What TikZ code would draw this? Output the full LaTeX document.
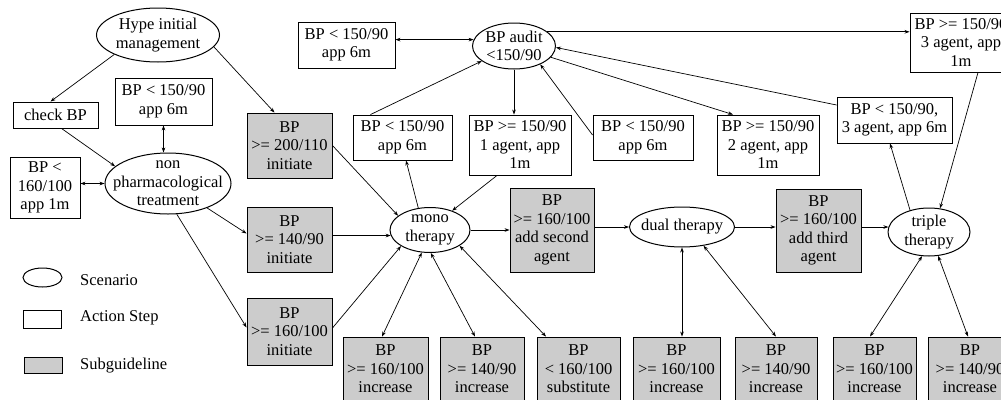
\documentclass[tikz,border=0pt]{standalone}
\usepackage{fontspec}
\setmainfont{Liberation Serif}
\usetikzlibrary{arrows.meta,shapes.geometric}

\tikzset{
  lbl/.style={font=\fontsize{16.5}{18.5}\selectfont, align=center, inner sep=0pt},
  sz/.style 2 args={minimum width=#1pt, minimum height=#2pt},
  scen/.style={ellipse, draw, line width=1pt, inner sep=0pt},
  actbox/.style={rectangle, draw, line width=0.9pt, lbl},
  subbox/.style={actbox, fill=black!20},
  conn/.style={line width=0.7pt, -{Stealth[length=5pt,width=3.6pt]}},
  bidir/.style={line width=0.7pt, {Stealth[length=5pt,width=3.6pt]}-{Stealth[length=5pt,width=3.6pt]}},
}

\begin{document}
\begin{tikzpicture}[x=1pt,y=-1pt]
\useasboundingbox (0,0) rectangle (1001,399);
\clip (0,0) rectangle (1001,399);

% scenarios
\node[scen, sz={123}{54}] (hype) at (158,35) {};
\node[lbl] (hype-t) at (hype) {Hype initial\\management};
\node[scen, sz={126}{61}] (nonph) at (168,183.5) {};
\node[lbl] (nonph-t) at (nonph) {non\\pharmacological\\treatment};
\node[scen, sz={83}{46}] (audit) at (514,46) {};
\node[lbl] (audit-t) at (audit) {BP audit\\<150/90};
\node[scen, sz={80}{45}] (mono) at (430,230) {};
\node[lbl] (mono-t) at (mono) {mono\\therapy};
\node[scen, sz={105}{40}] (dual) at (682,227) {};
\node[lbl] (dual-t) at (dual) {dual therapy};
\node[scen, sz={82}{48}] (triple) at (929,232) {};
\node[lbl] (triple-t) at (triple) {triple\\therapy};

% action steps
\node[actbox, sz={85}{26}] (checkbp) at (55.5,115) {check BP};
\node[actbox, sz={97}{47}] (l6m) at (163.5,101.5) {BP < 150/90\\app 6m};
\node[actbox, sz={70}{61}] (l1m) at (45,187.5) {BP <\\160/100\\app 1m};
\node[actbox, sz={97}{46}] (tl6m) at (346.5,45) {BP < 150/90\\app 6m};
\node[actbox, sz={99}{45}] (r2a) at (402.5,137.5) {BP < 150/90\\app 6m};
\node[actbox, sz={102}{60}] (r2b) at (520,145) {BP >= 150/90\\1 agent, app\\1m};
\node[actbox, sz={100}{45}] (r2c) at (643,137.5) {BP < 150/90\\app 6m};
\node[actbox, sz={102}{60}] (r2d) at (768,145) {BP >= 150/90\\2 agent, app\\1m};
\node[actbox, sz={115}{46}] (r3a6m) at (894.5,120) {BP < 150/90,\\3 agent, app 6m};
\node[actbox, sz={102}{59}] (r3a1m) at (961,42.5) {BP >= 150/90\\3 agent, app\\1m};

% subguidelines
\node[subbox, sz={85}{65}] (s200) at (289.5,145.5) {BP\\>= 200/110\\initiate};
\node[subbox, sz={85}{65}] (s140) at (289.5,239.5) {BP\\>= 140/90\\initiate};
\node[subbox, sz={85}{67}] (s160i) at (289.5,331.5) {BP\\>= 160/100\\initiate};
\node[subbox, sz={84}{84}] (add2) at (552,230) {BP\\>= 160/100\\add second\\agent};
\node[subbox, sz={85}{83}] (add3) at (818.5,230.5) {BP\\>= 160/100\\add third\\agent};
\node[subbox, sz={85}{64}] (bot1) at (385.5,369) {BP\\>= 160/100\\increase};
\node[subbox, sz={84}{64}] (bot2) at (482,369) {BP\\>= 140/90\\increase};
\node[subbox, sz={83}{64}] (bot3) at (578.5,369) {BP\\< 160/100\\substitute};
\node[subbox, sz={87}{64}] (bot4) at (676.5,369) {BP\\>= 160/100\\increase};
\node[subbox, sz={82}{64}] (bot5) at (776,369) {BP\\>= 140/90\\increase};
\node[subbox, sz={83}{64}] (bot6) at (874.5,369) {BP\\>= 160/100\\increase};
\node[subbox, sz={84}{64}] (bot7) at (970,369) {BP\\>= 140/90\\increase};

% legend
\node[scen, sz={39}{19}] (key-scen) at (42.5,277.5) {};
\node[lbl, anchor=west] (key-scen-t) at (80,280) {Scenario};
\node[actbox, sz={38}{18}] (key-act) at (42.5,319) {};
\node[lbl, anchor=west] (key-act-t) at (80,318) {Action Step};
\node[subbox, sz={38}{16}] (key-sub) at (43,365) {};
\node[lbl, anchor=west] (key-sub-t) at (80,366) {Subguideline};

% initial management
\draw[conn] (hype.204) -- ([xshift=-5pt]checkbp.north);
\draw[conn] (hype.348) -- ([xshift=-15pt]s200.north);
\draw[conn] ([xshift=6pt]checkbp.south) -- (nonph.162);
\draw[bidir] (l6m.south) -- (l6m.south |- nonph.north);
\draw[bidir] (l1m.east |- nonph.west) -- (nonph.west);
\draw[conn] (nonph.328) -- ([yshift=6pt]s140.west);
\draw[conn] (nonph.286) -- ([yshift=4pt]s160i.west);

% into mono therapy
\draw[conn] (s200.east) -- (mono.156);
\draw[conn] (s140.east |- mono.188) -- (mono.188);
\draw[conn] ([yshift=3.5pt]s160i.east) -- (mono.209);
\draw[conn] (mono.118) -- ([xshift=3.5pt]r2a.south);
\draw[conn] ([xshift=-23pt]r2b.south) -- (mono.41);
\draw[bidir] (mono.250) -- ([xshift=-3.5pt]bot1.north);
\draw[bidir] (mono.272) -- ([xshift=-7pt]bot2.north);
\draw[bidir] (mono.332) -- ([xshift=-32.5pt]bot3.north);

% BP audit
\draw[bidir] (audit.171 -| tl6m.east) -- (audit.171);
\draw[conn] ([xshift=-32pt]r2a.north) -- (audit.205);
\draw[conn] (audit.south) -- (audit.south |- r2b.north);
\draw[conn] ([yshift=2.5pt]r2c.west) -- (audit.325);
\draw[conn] (audit.343) -- ([xshift=-35pt]r2d.north);
\draw[conn] ([yshift=15pt]r3a6m.west) -- (audit.358);
\draw[conn] (audit.23) -- (audit.23 -| r3a1m.west);

% therapy chain
\draw[conn] (mono.east) -- (mono.east -| add2.west);
\draw[conn] (add2.east |- dual.west) -- (dual.west);
\draw[conn] (dual.east) -- (dual.east -| add3.west);
\draw[conn] (add3.east |- triple.173) -- (triple.173);
\draw[bidir] (dual.south) -- (dual.south |- bot4.north);
\draw[bidir] (dual.319) -- (bot5.north);

% triple therapy
\draw[conn] (triple.131) -- ([xshift=-4.5pt]r3a6m.south);
\draw[conn] ([xshift=17pt]r3a1m.south) -- (triple.65);
\draw[bidir] (triple.254) -- ([xshift=-4.5pt]bot6.north);
\draw[bidir] (triple.291) -- ([xshift=-2pt]bot7.north);
\end{tikzpicture}
\end{document}
